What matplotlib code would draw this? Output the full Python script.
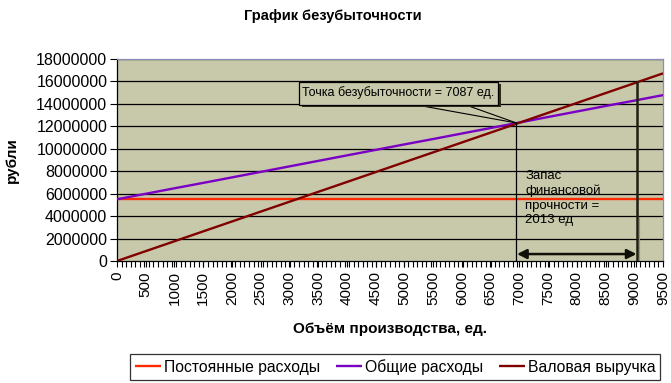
import matplotlib
matplotlib.use("Agg")
import matplotlib.pyplot as plt
from matplotlib.patches import Rectangle
import numpy as np

plt.rcParams['font.family'] = ['Liberation Sans', 'DejaVu Sans']

# ---- data ----
volume = [0, 500, 1000, 1500, 2000, 2500, 3000, 3500, 4000, 4500,
          5000, 5500, 6000, 6500, 7000, 7500, 8000, 8500, 9000, 9500]
fixed_costs = [5500000, 5500000, 5500000, 5500000, 5500000, 5500000, 5500000,
               5500000, 5500000, 5500000, 5500000, 5500000, 5500000, 5500000,
               5500000, 5500000, 5500000, 5500000, 5500000, 5500000]
total_costs = [5500000, 5990000, 6480000, 6960000, 7450000, 7940000, 8430000,
               8920000, 9410000, 9900000, 10390000, 10870000, 11360000, 11850000,
               12340000, 12830000, 13320000, 13810000, 14290000, 14780000]
revenue = [0, 880000, 1760000, 2640000, 3520000, 4400000, 5280000, 6160000,
           7040000, 7920000, 8800000, 9680000, 10560000, 11440000, 12320000,
           13200000, 14080000, 14960000, 15840000, 16720000]

series_names = ["Постоянные расходы", "Общие расходы", "Валовая выручка"]
title = "График безубыточности"
xlabel = "Объём производства, ед."
ylabel = "рубли"
callout_text = "Точка безубыточности = 7087 ед."
margin_text = "Запас\nфинансовой\nпрочности =\n2013 ед"

x_ticks = list(range(0, 9501, 500))
y_ticks = list(range(0, 18000001, 2000000))

# annotation anchor positions (data coords)
be_x, be_y = 6950, 12300000
ms_x, ms_y = 9055, 15950000

bg = '#C8C8AA'
fig = plt.figure(figsize=(6.71, 3.83), dpi=100)
fig.patch.set_facecolor('white')
ax = fig.add_axes([117/671, 1-261/383, 546/671, 202/383])
ax.set_facecolor(bg)

ax.set_xlim(0, 9500)
ax.set_ylim(0, 18000000)

for yv in y_ticks[1:]:
    ax.axhline(yv, color='black', lw=0.9, zorder=1)

lw = 1.7
l1, = ax.plot(volume, fixed_costs, color='#FF2A00', lw=lw, zorder=3, solid_capstyle='butt')
l2, = ax.plot(volume, total_costs, color='#7A00C4', lw=lw, zorder=3, solid_capstyle='butt')
l3, = ax.plot(volume, revenue, color='#800000', lw=lw, zorder=4, solid_capstyle='butt')

# ticks
ax.set_xticks(x_ticks)
ax.set_xticklabels([str(v) for v in x_ticks], rotation=90, fontsize=11)
ax.set_xticks(np.linspace(0, 9500, 121), minor=True)
ax.set_yticks(y_ticks)
ax.set_yticklabels([str(v) for v in y_ticks], fontsize=11.5)
ax.tick_params(axis='x', which='both', direction='out', length=4.5, width=0.8, pad=3)
ax.tick_params(axis='y', which='major', direction='out', length=5, width=0.8, pad=2)

for s in ['left', 'bottom']:
    ax.spines[s].set_color('black')
    ax.spines[s].set_linewidth(0.9)
for s in ['top', 'right']:
    ax.spines[s].set_color('#8C8CB8')
    ax.spines[s].set_linewidth(0.9)

ax.set_xlabel(xlabel, fontsize=11, fontweight='bold', labelpad=12)
ax.set_ylabel(ylabel, fontsize=11, fontweight='bold', labelpad=4)
ax.yaxis.set_label_coords(-98/546, 0.5)
fig.text(333/671, 1-16/383, title, fontsize=10.5, fontweight='bold', ha='center', va='center')

# break-even vertical line
ax.plot([be_x, be_x], [0, be_y], color='black', lw=0.9, zorder=5)
# margin of safety vertical line
ax.plot([ms_x, ms_x], [0, ms_y], color='#202010', lw=1.8, zorder=5)
ax.plot([ms_x + 20, ms_x + 20], [0, 3900000], color='#8C8CC8', lw=0.8, zorder=5)

# double arrow
ax.annotate('', xy=(be_x + 10, 620000), xytext=(ms_x - 15, 620000),
            arrowprops=dict(arrowstyle='<|-|>', color='#101008', lw=1.8,
                            mutation_scale=14, shrinkA=0, shrinkB=0), zorder=6)

# callout box
px = 9500 / 546
py = 18000000 / 202
bx0, bx1 = 3170, 6630
by0, by1 = 13930000, 15980000
ax.add_patch(Rectangle((bx0 + 2.5*px, by0 - 2.5*py), bx1 - bx0, by1 - by0,
                       facecolor='#303018', edgecolor='none', zorder=6))
ax.add_patch(Rectangle((bx0, by0), bx1 - bx0, by1 - by0,
                       facecolor=bg, edgecolor='black', lw=0.9, zorder=7))
ax.text((bx0 + bx1)/2, (by0 + by1)/2 + 60000, callout_text, fontsize=9,
        ha='center', va='center', zorder=8)
ax.plot([5185, be_x], [by0, be_y], color='black', lw=0.8, zorder=5)
ax.plot([6055, be_x], [by0, be_y], color='black', lw=0.8, zorder=5)

# margin of safety text
ax.text(7100, 8150000, margin_text, fontsize=9.5, ha='left', va='top',
        linespacing=1.3, zorder=8)

leg = fig.legend([l1, l2, l3], series_names, loc='center',
                 bbox_to_anchor=(395/671, 1-367/383), ncol=3, fontsize=11.3,
                 frameon=True, fancybox=False, edgecolor='black',
                 handlelength=1.7, handletextpad=0.15, columnspacing=1.0,
                 borderpad=0.3, borderaxespad=0)
leg.get_frame().set_linewidth(0.9)

fig.savefig('out.png', dpi=100)
